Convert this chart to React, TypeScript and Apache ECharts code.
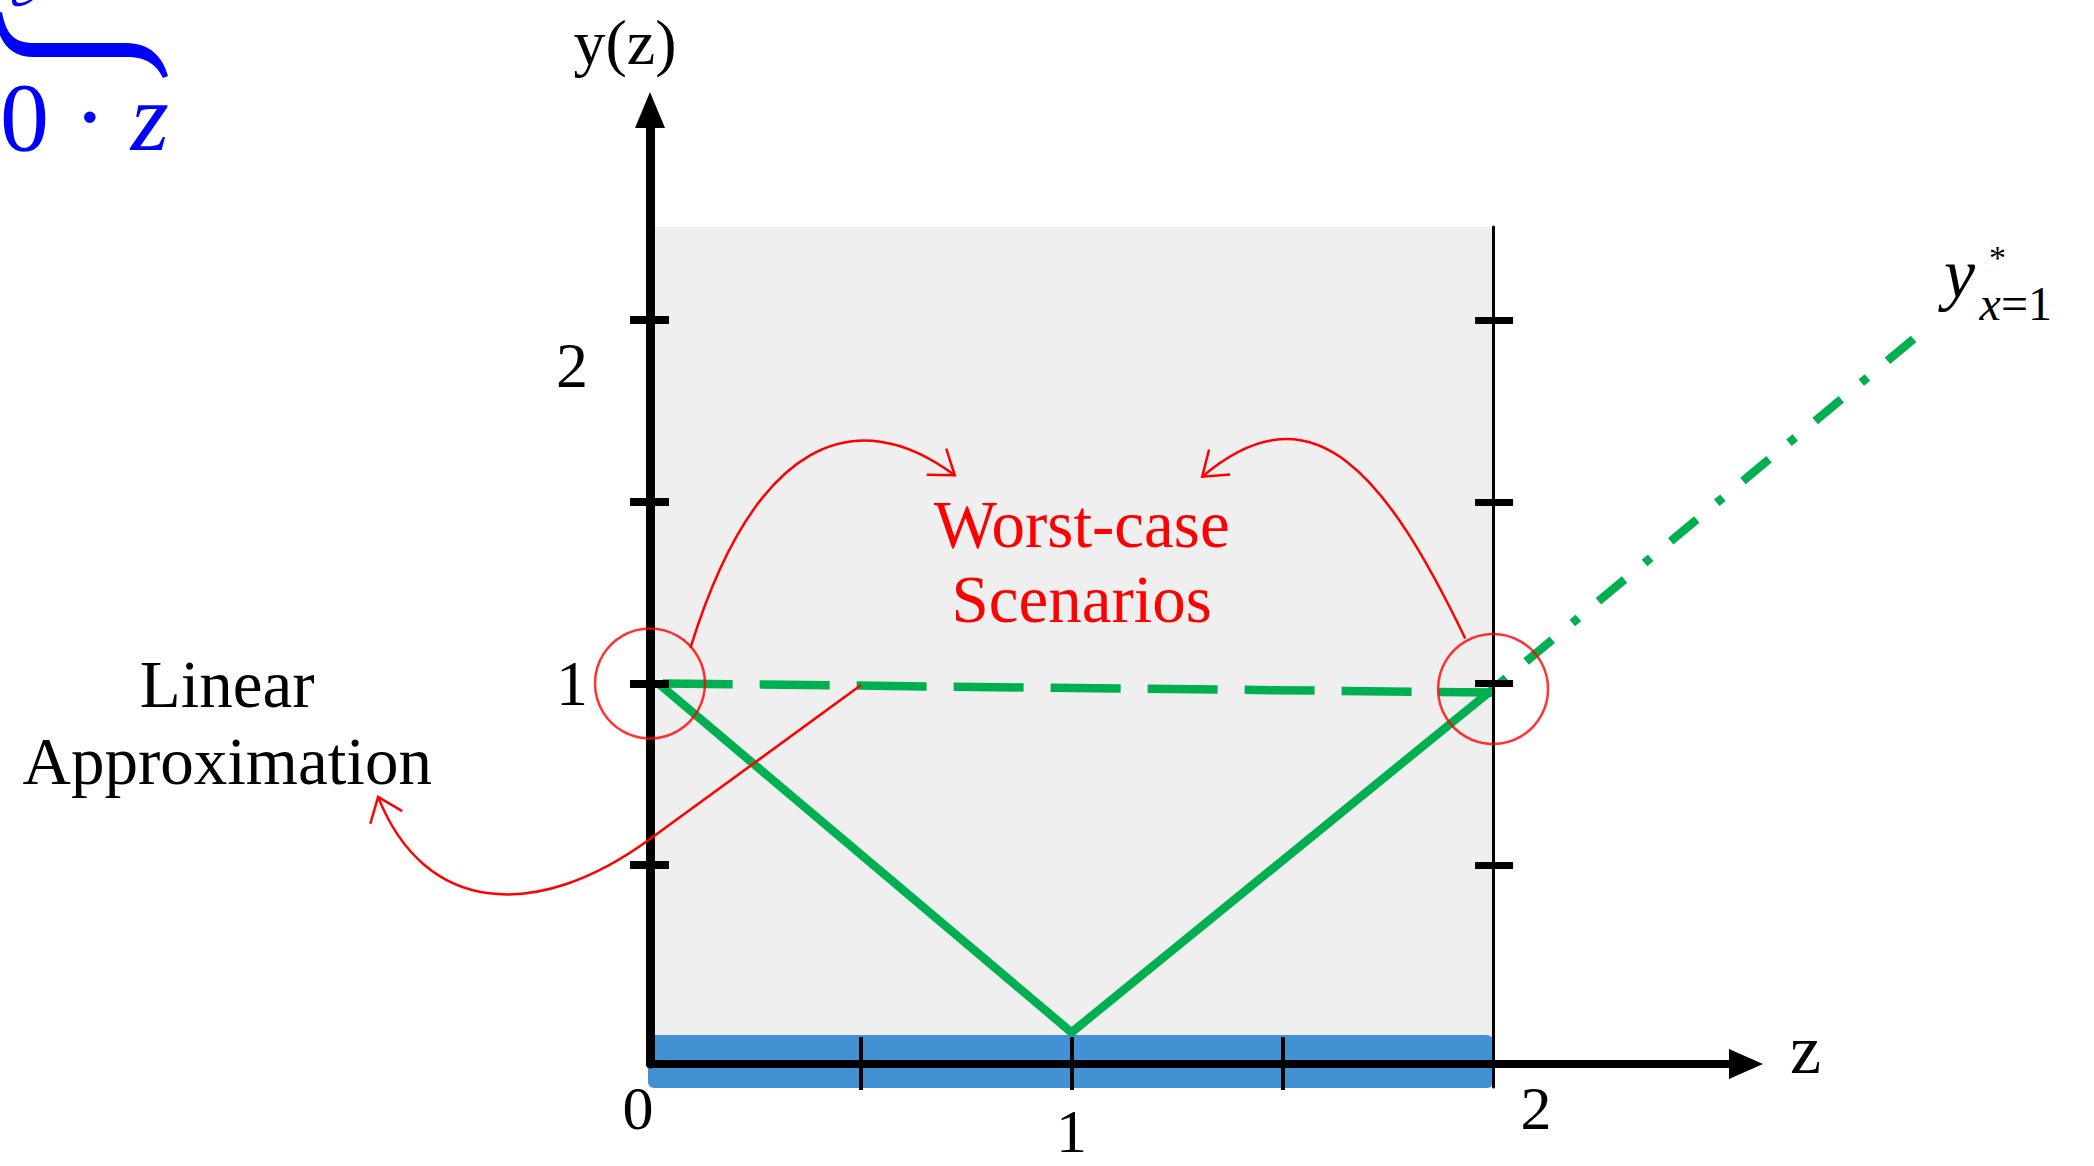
import React, { useEffect, useRef } from 'react';
import * as echarts from 'echarts';

const SERIF = 'Liberation Serif';
const GREEN = '#00b050';
const RED = '#ff0000';
const BLUE = '#4292d3';
const GRAY = '#efefef';
const MATH_BLUE = '#0000ff';

// Axis ranges: z horizontal, y(z) vertical
const zRange = [0, 2.6];
const yRange = [-0.047, 2.578];
// Wider z range used only by the continuation beyond the arrow tip
const zRangeWide = [0, 3.2];

// Shaded feasible region z in [0, 2]
const feasibleZ = [0, 2];
const feasibleY = [-0.11, 2.256];

// Tick marks and labels
const yTickValues = [0.5, 1, 1.5, 2];
const yLabelValues = [1, 2];
const zTickValues = [0.5, 1, 1.5];
const zLabelValues = [0, 1, 2];

// Optimal response for x = 1, its linear approximation and its continuation
const responseV = [[0.02, 1], [1, 0.04], [2, 0.985]];
const linearApprox = [[0.03, 1], [2, 0.975]];
const responseBeyond = [[2, 0.985], [3, 1.95]];
const worstCasePoints = [[0, 1], [2, 0.985]];

// Annotation anchors in (z, y) units
const arrowLeft = [[0.096, 1.098], [0.248, 1.668], [0.486, 1.778], [0.723, 1.573]];
const arrowRight = [[1.934, 1.124], [1.753, 1.558], [1.579, 1.833], [1.31, 1.569]];
const arrowLinearStart = [0.5, 0.995];
const arrowLinear = [[0, 0.572], [-0.268, 0.344], [-0.534, 0.363], [-0.645, 0.688]];
const worstCaseTextAt = [1.024, 1.336];
const linearTextAt = [-1.003, 0.893];

// Pieces of the formula in the top-left corner: right half of an overbrace and a glyph tail above it
const BRACE_D =
  'M2,12 C6,34 14,43 34,43 L126,43 C150,43 163,57 168,76 L163,78 C156,64 146,57 126,57 L34,57 C10,57 -2,42 -5,14 Z';
const TAIL_D = 'M12,1 C12,6 16,7 21,6 C26,5 30,2 33,0 L29,0 C26,2 22,3 19,3 C17,3 16,1 16,0 L12,0 Z';
echarts.graphic.registerShape('brace', echarts.graphic.extendPath(BRACE_D, {}));
echarts.graphic.registerShape('glyphTail', echarts.graphic.extendPath(TAIL_D, {}));

const tickLine = (width: number) => ({ color: '#000', width });

export default function App() {
  const ref = useRef<HTMLDivElement>(null);

  useEffect(() => {
    document.body.style.margin = '0';
    const el = ref.current!;
    const chart = echarts.init(el, null, { renderer: 'svg' });

    const zLabelRich = {
      l: { fontFamily: SERIF, fontSize: 62, lineHeight: 60, color: '#000', padding: [0, 24, 0, 0] },
      m: { fontFamily: SERIF, fontSize: 62, lineHeight: 60, color: '#000', padding: [45, 0, 0, 0] },
      r: { fontFamily: SERIF, fontSize: 62, lineHeight: 60, color: '#000', padding: [0, 0, 0, 86] },
    };
    const yLabelRich = {
      n: { fontFamily: SERIF, fontSize: 64, lineHeight: 64, color: '#000' },
      lo: { fontFamily: SERIF, fontSize: 64, lineHeight: 64, color: '#000', padding: [90, 0, 0, 0] },
    };

    const hiddenAxis = { show: false, axisLine: { show: false, onZero: false } };

    const option: any = {
      animation: false,
      backgroundColor: '#ffffff',
      grid: [
        { left: 650, right: 348, top: 110, bottom: 102, show: false, containLabel: false, outerBoundsMode: 'none' },
        {
          left: 650, right: 602, top: 227, bottom: 78, show: true, backgroundColor: GRAY,
          borderWidth: 0, containLabel: false, outerBoundsMode: 'none', z: 0,
        },
        { left: 650, right: 94, top: 110, bottom: 102, show: false, containLabel: false, outerBoundsMode: 'none' },
      ],
      xAxis: [
        {
          gridIndex: 0, type: 'value', position: 'bottom', min: zRange[0], max: zRange[1], z: 3,
          axisLine: {
            show: true, onZero: false, symbol: ['none', 'triangle'], symbolSize: [30, 34],
            lineStyle: { color: '#000', width: 8 },
          },
          axisTick: { show: true, inside: true, length: 27, customValues: zTickValues, lineStyle: tickLine(4) },
          axisLabel: {
            show: true, customValues: zLabelValues, margin: 14,
            formatter: (v: number) => (v === 0 ? '{l|0}' : v === 1 ? '{m|1}' : '{r|2}'),
            rich: zLabelRich,
          },
          splitLine: { show: false },
          name: 'z', nameLocation: 'end', nameGap: 44,
          nameTextStyle: {
            fontFamily: SERIF, fontSize: 70, color: '#000', verticalAlign: 'bottom', lineHeight: 30,
          },
        },
        {
          gridIndex: 0, type: 'value', position: 'bottom', min: zRange[0], max: zRange[1], z: 3,
          axisLine: { show: false, onZero: false },
          axisTick: { show: true, inside: false, length: 26, customValues: zTickValues, lineStyle: tickLine(4) },
          axisLabel: { show: false },
          splitLine: { show: false },
        },
        { gridIndex: 1, type: 'value', min: feasibleZ[0], max: feasibleZ[1], ...hiddenAxis },
        { gridIndex: 2, type: 'value', min: zRangeWide[0], max: zRangeWide[1], ...hiddenAxis },
      ],
      yAxis: [
        {
          gridIndex: 0, type: 'value', position: 'left', min: yRange[0], max: yRange[1], z: 3,
          axisLine: {
            show: true, onZero: false, symbol: ['none', 'triangle'], symbolSize: [30, 36],
            lineStyle: { color: '#000', width: 9 },
          },
          axisTick: { show: true, inside: false, length: 20, customValues: yTickValues, lineStyle: tickLine(8) },
          axisLabel: {
            show: true, customValues: yLabelValues, margin: 62,
            formatter: (v: number) => (v === 2 ? '{lo|2}' : '{n|' + v + '}'),
            rich: yLabelRich,
          },
          splitLine: { show: false },
          name: 'y(z)', nameLocation: 'end', nameGap: 30,
          nameTextStyle: { fontFamily: SERIF, fontSize: 64, lineHeight: 76, color: '#000', padding: [0, 50, 0, 0] },
        },
        {
          gridIndex: 0, type: 'value', position: 'left', min: yRange[0], max: yRange[1], z: 3,
          axisLine: { show: false, onZero: false },
          axisTick: { show: true, inside: true, length: 19, customValues: yTickValues, lineStyle: tickLine(8) },
          axisLabel: { show: false },
          splitLine: { show: false },
        },
        {
          gridIndex: 1, type: 'value', position: 'right', min: feasibleY[0], max: feasibleY[1], z: 3,
          axisLine: { show: true, onZero: false, lineStyle: { color: '#000', width: 3 } },
          axisTick: { show: true, inside: true, length: 18, customValues: yTickValues, lineStyle: tickLine(7) },
          axisLabel: { show: false },
          splitLine: { show: false },
        },
        {
          gridIndex: 1, type: 'value', position: 'right', min: feasibleY[0], max: feasibleY[1], z: 3,
          axisLine: { show: false, onZero: false },
          axisTick: { show: true, inside: false, length: 20, customValues: yTickValues, lineStyle: tickLine(7) },
          axisLabel: { show: false },
          splitLine: { show: false },
        },
        { gridIndex: 2, type: 'value', min: yRange[0], max: yRange[1], ...hiddenAxis },
      ],
      series: [
        {
          type: 'custom', name: 'interval', xAxisIndex: 0, yAxisIndex: 0, z: 1, clip: false, silent: true,
          data: [feasibleZ],
          renderItem: (_params: any, api: any) => {
            const a = api.coord([api.value(0), yRange[0]]);
            const b = api.coord([api.value(1), yRange[0]]);
            return {
              type: 'rect',
              shape: { x: a[0] - 2, y: a[1] - 29, width: b[0] - a[0] + 2, height: 53, r: 6 },
              style: { fill: BLUE },
            };
          },
        },
        {
          type: 'line', name: 'response', data: responseV, symbol: 'none', showSymbol: false, z: 2, silent: true,
          lineStyle: { color: GREEN, width: 8.5 },
        },
        {
          type: 'line', name: 'linear approximation', data: linearApprox, symbol: 'none', showSymbol: false, z: 2,
          silent: true, lineStyle: { color: GREEN, width: 8.5, type: [70, 27] },
        },
        {
          type: 'line', name: 'continuation', data: responseBeyond, xAxisIndex: 3, yAxisIndex: 4,
          symbol: 'none', showSymbol: false, z: 2, clip: false, silent: true,
          lineStyle: { color: GREEN, width: 8.5, type: [34, 26, 8, 26], dashOffset: 51 },
        },
        {
          type: 'scatter', name: 'worst case', data: worstCasePoints, symbol: 'circle', symbolSize: 110,
          clip: false, z: 4, silent: true,
          itemStyle: { color: 'rgba(0,0,0,0)', borderColor: RED, borderWidth: 2.5 },
        },
      ],
    };

    chart.setOption(option);

    const P = (p: number[]) => chart.convertToPixel({ gridIndex: 0 }, p) as number[];
    const W = chart.getWidth();
    const H = chart.getHeight();

    const tl = P([feasibleZ[0], feasibleY[1]]);
    const br = P([feasibleZ[1], feasibleY[0]]);
    const wideTl = P([zRangeWide[0], yRange[1]]);
    const wideBr = P([zRangeWide[1], yRange[0]]);

    const redStroke = { stroke: RED, lineWidth: 2.5, fill: 'none' };

    const bez = (pts: number[][]) => {
      const [a, b, c, d] = pts.map(P);
      return {
        type: 'bezierCurve', z: 10, silent: true,
        shape: { x1: a[0], y1: a[1], cpx1: b[0], cpy1: b[1], cpx2: c[0], cpy2: c[1], x2: d[0], y2: d[1] },
        style: redStroke,
      };
    };
    const head = (tipD: number[], fromD: number[], len = 28, spread = 0.62) => {
      const t = P(tipD);
      const f = P(fromD);
      const ang = Math.atan2(f[1] - t[1], f[0] - t[0]);
      const arm = (a: number) => [t[0] + len * Math.cos(a), t[1] + len * Math.sin(a)];
      return {
        type: 'polyline', z: 10, silent: true,
        shape: { points: [arm(ang + spread), t, arm(ang - spread)] },
        style: redStroke,
      };
    };

    const s = P(arrowLinearStart);
    const c0 = P(arrowLinear[0]);
    const wc = P(worstCaseTextAt);
    const lt = P(linearTextAt);
    const e = P(responseBeyond[responseBeyond.length - 1]);

    const graphic: any[] = [
      // worst-case arrows
      bez(arrowLeft),
      head(arrowLeft[3], arrowLeft[2]),
      bez(arrowRight),
      head(arrowRight[3], arrowRight[2]),
      // linear approximation arrow
      {
        type: 'line', z: 10, silent: true,
        shape: { x1: s[0], y1: s[1], x2: c0[0], y2: c0[1] },
        style: redStroke,
      },
      bez(arrowLinear),
      head(arrowLinear[3], arrowLinear[2], 28, 0.66),
      {
        type: 'text', z: 10, x: wc[0], y: wc[1], silent: true,
        style: {
          text: 'Worst-case\nScenarios', fill: RED, fontFamily: SERIF, fontSize: 67, lineHeight: 75,
          align: 'center', verticalAlign: 'middle',
        },
      },
      {
        type: 'text', z: 10, x: lt[0], y: lt[1], silent: true,
        style: {
          text: 'Linear\nApproximation', fill: '#000', fontFamily: SERIF, fontSize: 67, lineHeight: 77,
          align: 'center', verticalAlign: 'middle',
        },
      },
      // y*_{x=1} label at the end of the continuation
      {
        type: 'text', z: 10, x: e[0] + 45, y: e[1] - 65, silent: true,
        style: {
          text: 'y', fill: '#000', fontFamily: SERIF, fontStyle: 'italic', fontSize: 70,
          align: 'center', verticalAlign: 'middle', lineHeight: 50,
        },
      },
      {
        type: 'text', z: 10, x: e[0] + 83, y: e[1] - 81, silent: true,
        style: { text: '*', fill: '#000', fontFamily: SERIF, fontSize: 34, align: 'center', verticalAlign: 'middle' },
      },
      {
        type: 'text', z: 10, x: e[0] + 65, y: e[1] - 35, silent: true,
        style: {
          text: '{i|x}{n|=1}', fill: '#000', align: 'left', verticalAlign: 'middle',
          rich: {
            i: { fontFamily: SERIF, fontStyle: 'italic', fontSize: 48, fill: '#000' },
            n: { fontFamily: SERIF, fontSize: 48, fill: '#000' },
          },
        },
      },
      // formula fragment in the top-left corner
      { type: 'brace', z: 10, x: 0, y: 0, silent: true, style: { fill: MATH_BLUE } },
      { type: 'glyphTail', z: 10, x: 0, y: 0, silent: true, style: { fill: MATH_BLUE } },
      {
        type: 'text', z: 10, x: 0, y: 117, silent: true,
        style: {
          text: '{n|0 · }{i|z}', fill: MATH_BLUE, align: 'left', verticalAlign: 'middle',
          rich: {
            n: { fontFamily: SERIF, fontSize: 98, fill: MATH_BLUE },
            i: { fontFamily: SERIF, fontStyle: 'italic', fontSize: 98, fill: MATH_BLUE },
          },
        },
      },
    ];

    chart.setOption({
      grid: [
        {},
        { left: tl[0], top: tl[1], right: W - br[0], bottom: H - br[1] },
        { left: wideTl[0], top: wideTl[1], right: W - wideBr[0], bottom: H - wideBr[1] },
      ],
      graphic,
    });

    return () => chart.dispose();
  }, []);

  return <div ref={ref} style={{ width: 2094, height: 1166 }} />;
}
